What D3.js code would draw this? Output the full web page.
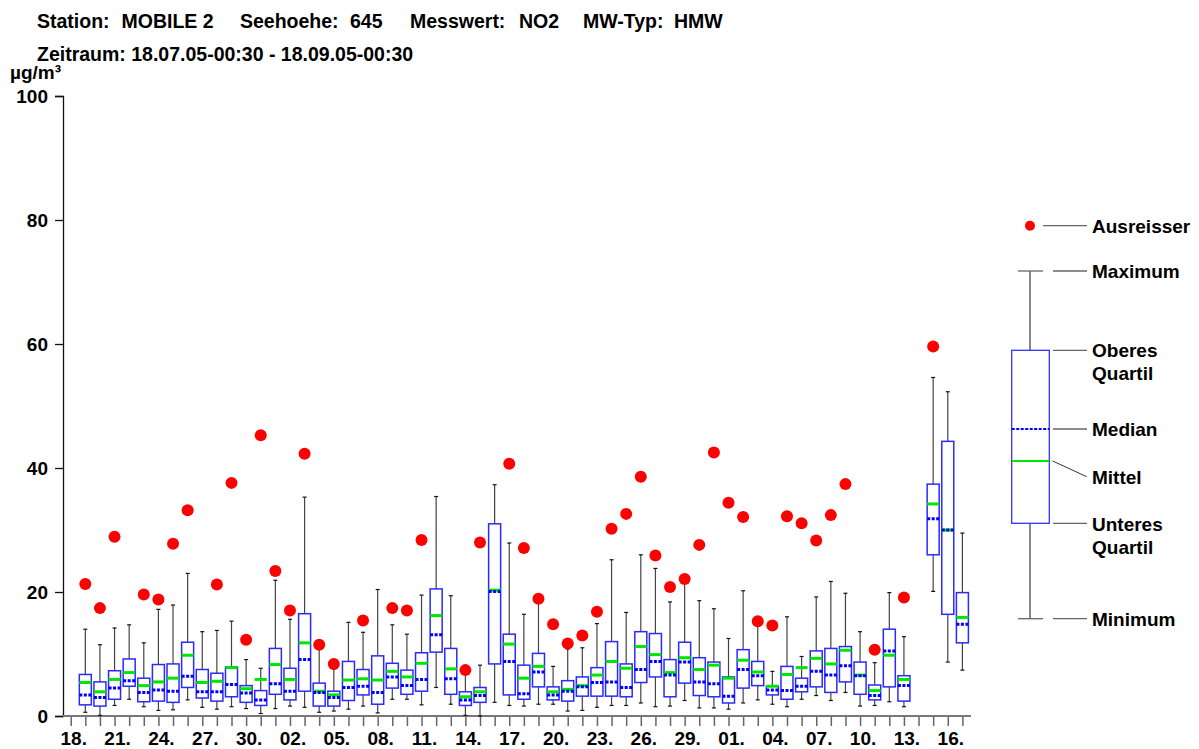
<!DOCTYPE html>
<html>
<head>
<meta charset="utf-8">
<script src="https://cdn.jsdelivr.net/npm/d3@7"></script>
<style>
  body { margin: 0; background: #fff; }
  svg { display: block; font-family: "Liberation Sans", Arial, Helvetica, sans-serif; font-weight: bold; }
</style>
</head>
<body>
<svg id="chart" width="1199" height="749"></svg>
<script>
// Daily NO2 half-hour values (HMW), station MOBILE 2, 18.07.05 - 17.09.05
const days = [
  "18.07","19.07","20.07","21.07","22.07","23.07","24.07","25.07","26.07","27.07","28.07","29.07","30.07","31.07",
  "01.08","02.08","03.08","04.08","05.08","06.08","07.08","08.08","09.08","10.08","11.08","12.08","13.08","14.08",
  "15.08","16.08","17.08","18.08","19.08","20.08","21.08","22.08","23.08","24.08","25.08","26.08","27.08","28.08",
  "29.08","30.08","31.08",
  "01.09","02.09","03.09","04.09","05.09","06.09","07.09","08.09","09.09","10.09","11.09","12.09","13.09","14.09",
  "15.09","16.09","17.09"
];
const tickDays = ["18.07","21.07","24.07","27.07","30.07","02.08","05.08","08.08","11.08","14.08","17.08",
  "20.08","23.08","26.08","29.08","01.09","04.09","07.09","10.09","13.09","16.09"];
const tickLabels = ["18.","21.","24.","27.","30.","02.","05.","08.","11.","14.","17.",
  "20.","23.","26.","29.","01.","04.","07.","10.","13.","16."];
const yTicks = [0, 20, 40, 60, 80, 100];

// statistics per day (µg/m³); null = no data
const minimum = [null,0.6,0.1,1.7,2.7,1.5,0.9,1.0,2.6,1.4,1.1,1.5,1.2,0.4,
  1.2,1.6,1.4,0.6,0.8,1.1,1.6,0.5,2.7,2.7,1.8,4.6,1.9,0.1,0.0,2.2,1.7,1.6,1.9,1.9,0.8,0.9,1.4,1.7,1.7,2.1,1.5,1.6,2.5,1.3,1.3,
  1.1,2.1,2.6,1.9,1.5,2.7,3.3,2.5,3.8,1.6,1.7,2.3,1.5,null,20.1,8.7,7.4];
const lowerQ = [null,1.8,1.6,2.7,4.8,2.3,2.4,2.2,4.6,2.9,2.4,3.1,2.2,1.7,
  3.5,2.6,4.0,1.6,1.6,2.5,3.4,1.9,4.5,3.5,4.0,10.3,3.5,1.7,2.2,8.4,3.4,2.7,4.7,2.6,2.4,3.2,3.2,3.2,3.1,5.4,6.3,3.1,5.3,3.3,3.1,
  2.1,4.5,4.9,3.4,2.7,3.9,4.7,3.8,5.5,3.5,2.6,4.7,2.4,null,26.0,16.4,11.8];
const median = [null,3.4,3.0,4.5,5.7,3.8,4.2,4.0,6.4,3.9,3.9,5.1,3.7,2.6,
  5.2,4.0,9.1,3.8,3.0,4.6,4.8,3.8,6.3,4.9,5.9,13.1,6.0,2.6,3.3,20.1,8.8,3.6,7.1,3.4,4.0,4.7,5.4,5.5,4.6,7.5,8.8,6.6,8.7,5.5,5.2,
  3.2,7.5,6.5,4.2,4.1,4.8,7.2,6.6,8.1,6.5,3.3,10.5,4.9,null,31.8,30.0,14.8];
const mean = [null,5.4,3.9,5.9,7.0,4.9,5.5,6.1,9.8,5.4,5.6,7.8,4.4,5.9,
  8.3,5.9,11.8,4.0,3.4,5.8,6.0,5.8,7.2,6.3,8.5,16.2,7.6,3.1,3.9,20.3,11.6,6.1,8.0,3.9,4.3,4.9,6.6,8.8,7.7,11.2,9.9,7.0,9.4,7.5,8.2,
  6.1,9.0,7.1,4.8,6.7,7.8,9.3,8.4,10.6,6.6,4.1,9.8,5.9,null,34.2,30.0,15.9];
const upperQ = [null,6.7,5.5,7.3,9.2,6.1,8.3,8.4,11.9,7.5,6.9,7.9,4.9,4.1,
  10.9,7.7,16.5,5.3,4.0,8.8,7.5,9.7,8.5,7.4,10.2,20.5,10.9,3.9,4.6,31.0,13.2,8.2,10.1,4.7,5.7,6.3,7.8,12.0,8.4,13.6,13.3,9.1,11.9,9.4,8.7,
  6.3,10.7,8.8,4.8,8.0,6.1,10.5,10.9,11.2,8.7,5.0,14.0,6.5,null,37.4,44.3,19.9];
const maximum = [null,14.0,11.5,14.2,14.7,11.8,17.2,17.9,23.0,13.6,13.8,15.3,9.1,7.7,
  21.9,15.6,35.3,10.9,7.6,15.1,13.5,20.4,14.7,13.2,19.5,35.4,19.4,7.2,8.2,37.3,27.9,16.4,18.2,8.0,10.8,11.0,14.9,25.2,16.7,26.0,23.8,18.4,22.0,18.6,17.3,
  12.5,20.2,14.5,7.2,16.0,9.6,19.2,21.7,19.8,13.6,8.6,19.9,12.8,null,54.6,52.3,29.5];
const outlier = [null,21.3,17.4,28.9,null,19.6,18.8,27.8,33.2,null,21.2,37.6,12.3,45.3,
  23.4,17.0,42.3,11.5,8.4,null,15.4,null,17.4,17.0,28.4,null,null,7.4,28.0,null,40.7,27.1,18.9,14.8,11.7,13.0,16.8,30.2,32.6,38.6,25.9,20.8,22.1,27.6,42.5,
  34.4,32.1,15.3,14.6,32.2,31.1,28.3,32.4,37.4,null,10.7,null,19.1,null,59.6,null,null];

const legendItems = ["Ausreisser", "Maximum", "Oberes|Quartil", "Median", "Mittel", "Unteres|Quartil", "Minimum"];

const svg = d3.select("#chart");
const FONT = 19;

const x = d3.scalePoint().domain(days).range([70.7, 962.4]);
const y = d3.scaleLinear().domain([0, 100]).range([716, 96]);

// header
const header = svg.append("text").attr("y", 28).attr("font-size", 19.5).attr("fill", "#000");
[["Station:", 37], ["MOBILE 2", 121.5], ["Seehoehe:", 240], ["645", 350], ["Messwert:", 410],
 ["NO2", 519], ["MW-Typ:", 583], ["HMW", 674]].forEach(([t, px]) => {
  header.append("tspan").attr("x", px).text(t);
});
svg.append("text").attr("x", 37).attr("y", 61).attr("font-size", 19.5).text("Zeitraum: 18.07.05-00:30 - 18.09.05-00:30");
svg.append("text").attr("x", 10).attr("y", 79).attr("font-size", 19).text("µg/m³");

// y axis
const yAxis = svg.append("g").attr("transform", "translate(63,0)")
  .call(d3.axisLeft(y).tickValues(yTicks).tickSize(8).tickPadding(7));
yAxis.select(".domain").attr("stroke", "#111").attr("stroke-width", 1.3);
yAxis.selectAll(".tick line").attr("stroke", "#111").attr("stroke-width", 1.3);
yAxis.selectAll(".tick text").attr("font-size", FONT).attr("font-family", null).attr("fill", "#000");

// x axis
const xAxis = svg.append("g").attr("transform", "translate(0,716)")
  .call(d3.axisBottom(x).tickValues(days).tickSize(10).tickPadding(6)
    .tickFormat(d => { const k = tickDays.indexOf(d); return k >= 0 ? tickLabels[k] : ""; }));
xAxis.select(".domain").remove();
xAxis.selectAll(".tick line").attr("stroke", "#666").attr("stroke-width", 1.5);
xAxis.selectAll(".tick text").attr("font-size", FONT).attr("font-family", null).attr("fill", "#000")
  .attr("dx", 2.5).attr("dy", null).attr("y", 29);
svg.append("line").attr("x1", 63).attr("x2", 971).attr("y1", 716).attr("y2", 716)
  .attr("stroke", "#777").attr("stroke-width", 2);

// boxes
const boxW = 12, capW = 4;
const rows = days.map((d, i) => ({
  day: d, lo: minimum[i], q1: lowerQ[i], med: median[i], avg: mean[i], q3: upperQ[i], hi: maximum[i], out: outlier[i]
})).filter(r => r.q1 !== null);

const g = svg.append("g");
const box = g.selectAll("g.box").data(rows).join("g").attr("class", "box");

box.append("line").attr("x1", r => x(r.day)).attr("x2", r => x(r.day))
  .attr("y1", r => y(r.lo)).attr("y2", r => y(r.q1)).attr("stroke", "#444").attr("stroke-width", 1.2);
box.append("line").attr("x1", r => x(r.day)).attr("x2", r => x(r.day))
  .attr("y1", r => y(r.q3)).attr("y2", r => y(r.hi)).attr("stroke", "#444").attr("stroke-width", 1.2);
box.append("line").attr("x1", r => x(r.day) - capW / 2).attr("x2", r => x(r.day) + capW / 2)
  .attr("y1", r => y(r.lo)).attr("y2", r => y(r.lo)).attr("stroke", "#111").attr("stroke-width", 1.2);
box.append("line").attr("x1", r => x(r.day) - capW / 2).attr("x2", r => x(r.day) + capW / 2)
  .attr("y1", r => y(r.hi)).attr("y2", r => y(r.hi)).attr("stroke", "#111").attr("stroke-width", 1.2);
box.append("rect").attr("x", r => x(r.day) - boxW / 2).attr("width", boxW)
  .attr("y", r => y(r.q3)).attr("height", r => y(r.q1) - y(r.q3))
  .attr("fill", "#fff").attr("stroke", "#2a2aff").attr("stroke-width", 1.5);
box.append("line").attr("x1", r => x(r.day) - boxW / 2).attr("x2", r => x(r.day) + boxW / 2)
  .attr("y1", r => y(r.avg)).attr("y2", r => y(r.avg)).attr("stroke", "#00e600").attr("stroke-width", 3);
box.append("line").attr("x1", r => x(r.day) - boxW / 2).attr("x2", r => x(r.day) + boxW / 2)
  .attr("y1", r => y(r.med)).attr("y2", r => y(r.med)).attr("stroke", "#0000ff").attr("stroke-width", 3)
  .attr("stroke-dasharray", "3,1.5");

g.selectAll("circle.out").data(rows.filter(r => r.out !== null)).join("circle").attr("class", "out")
  .attr("cx", r => x(r.day)).attr("cy", r => y(r.out)).attr("r", 6).attr("fill", "#ff0000");

// key
const key = svg.append("g");
const kx = 1030, kl = 1011.7, kr = 1049.3, tx = 1092;
const ky = { out: 225.7, max: 271, q3: 350.3, med: 429, avg: 461, q1: 523.3, min: 618.7 };
key.append("circle").attr("cx", kx).attr("cy", ky.out).attr("r", 5).attr("fill", "#ff0000");
key.append("line").attr("x1", kx).attr("x2", kx).attr("y1", ky.max).attr("y2", ky.q3).attr("stroke", "#111");
key.append("line").attr("x1", kx).attr("x2", kx).attr("y1", ky.q1).attr("y2", ky.min).attr("stroke", "#111");
[ky.max, ky.min].forEach(v => key.append("line").attr("x1", 1018).attr("x2", 1043).attr("y1", v).attr("y2", v)
  .attr("stroke", "#666").attr("stroke-width", 1.3));
key.append("rect").attr("x", kl).attr("y", ky.q3).attr("width", kr - kl).attr("height", ky.q1 - ky.q3)
  .attr("fill", "#fff").attr("stroke", "#3333ff").attr("stroke-width", 1.3);
key.append("line").attr("x1", kl).attr("x2", kr).attr("y1", ky.avg).attr("y2", ky.avg)
  .attr("stroke", "#00e600").attr("stroke-width", 2.2);
key.append("line").attr("x1", kl).attr("x2", kr).attr("y1", ky.med).attr("y2", ky.med)
  .attr("stroke", "#0000ff").attr("stroke-width", 2).attr("stroke-dasharray", "3,1.5");
key.append("line").attr("x1", 1043).attr("x2", 1087).attr("y1", ky.out).attr("y2", ky.out).attr("stroke", "#666").attr("stroke-width", 1.3);
[ky.max, ky.q3, ky.med, ky.q1, ky.min].forEach(v => key.append("line").attr("x1", 1053).attr("x2", 1087)
  .attr("y1", v).attr("y2", v).attr("stroke", "#666").attr("stroke-width", 1.3));
key.append("line").attr("x1", 1052.7).attr("x2", 1086.7).attr("y1", ky.avg).attr("y2", 476.7)
  .attr("stroke", "#333").attr("stroke-width", 1);

const labelY = [233, 278, 357, 436, 484, 531, 626];
legendItems.forEach((t, i) => {
  const parts = t.split("|");
  const el = key.append("text").attr("font-size", FONT).attr("fill", "#000");
  parts.forEach((p, j) => el.append("tspan").attr("x", tx).attr("y", labelY[i] + j * 23).text(p));
});
</script>
</body>
</html>
